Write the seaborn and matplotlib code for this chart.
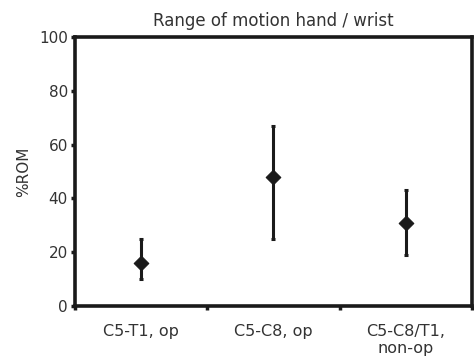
import matplotlib
matplotlib.use("Agg")
import matplotlib.pyplot as plt
import seaborn as sns
import pandas as pd
import numpy as np

categories = ["C5-T1, op", "C5-C8, op", "C5-C8/T1,\nnon-op"]
means = [16, 48, 31]
lows = [10, 25, 19]
highs = [25, 67, 43]
yticks = [0, 20, 40, 60, 80, 100]

sns.set_style("white")
plt.rcParams['font.family'] = ['DejaVu Sans']

df = pd.DataFrame({"pos": np.arange(len(categories)) + 0.5, "val": means,
                   "lo": lows, "hi": highs})

fig = plt.figure(figsize=(4.74, 3.59), dpi=100)
ax = fig.add_axes([0.158, 0.148, 0.838, 0.749])

ax.errorbar(df["pos"], df["val"],
            yerr=[df["val"] - df["lo"], df["hi"] - df["val"]],
            fmt="none", ecolor="#1a1a1a", elinewidth=2.2, capsize=1.6, capthick=2.2)
sns.scatterplot(data=df, x="pos", y="val", marker="D", s=55, color="#1a1a1a",
                edgecolor="#1a1a1a", linewidth=0.8, ax=ax, zorder=3)

ax.set_xlim(0, 3)
ax.set_ylim(0, 100)
ax.set_xticks([0, 1, 2, 3])
ax.set_xticklabels([])
ax.set_xticks(df["pos"], minor=True)
ax.set_xticklabels(categories, minor=True)
ax.tick_params(axis="x", which="minor", bottom=False, length=0, pad=13,
               labelsize=11.5, colors="#333333")
ax.tick_params(axis="x", which="major", bottom=True, length=3, width=2.5,
               direction="out", color="#1a1a1a")
ax.set_yticks(yticks)
ax.set_yticklabels([str(v) for v in yticks])
ax.tick_params(axis="y", left=True, length=3, width=2.5, direction="out", labelsize=11,
               labelcolor="#333333", color="#1a1a1a", pad=2)
for lab in ax.get_xticklabels(minor=True):
    lab.set_linespacing(1.2)

for s in ax.spines.values():
    s.set_linewidth(2.6)
    s.set_color("#1a1a1a")

ax.set_xlabel("")
ax.set_ylabel("%ROM", fontsize=11, color="#333333", labelpad=6)
ax.set_title("Range of motion hand / wrist", fontsize=12, color="#333333", pad=8)

fig.savefig("out.png", dpi=100)
